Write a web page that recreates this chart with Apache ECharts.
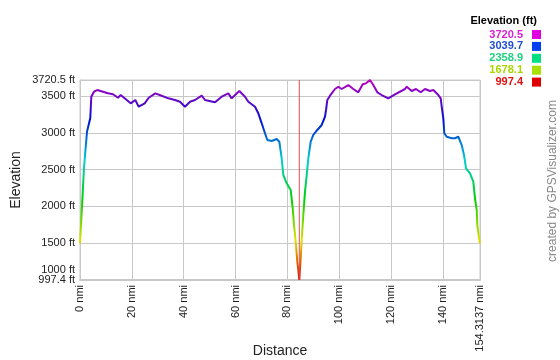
<!DOCTYPE html>
<html>
<head>
<meta charset="utf-8">
<script src="https://cdn.jsdelivr.net/npm/echarts@6/dist/echarts.min.js"></script>
<style>html,body{margin:0;padding:0;background:#fff}#c{width:560px;height:360px}</style>
</head>
<body>
<div id="c"></div>
<script>
// Distance (nmi) of each sampled point
var distances = [0, 0.77, 1.54, 2.70, 3.97, 4.36, 5.40, 6.67, 10.80, 12.73, 14.66, 15.70, 19.56, 21.33, 22.65, 24.96, 26.50, 29.05, 30.75, 34.07, 36.65, 38.58, 40.51, 42.44, 44.37, 46.95, 48.22, 52.08, 54.67, 57.21, 58.52, 61.46, 63.66, 64.93, 67.51, 68.79, 70.10, 71.37, 72.26, 73.96, 75.89, 76.89, 77.81, 78.43, 79.74, 81.29, 82.06, 82.56, 83.33, 83.83, 84.22, 84.60, 85.14, 85.65, 86.15, 86.80, 87.46, 88.08, 89.00, 90.01, 91.55, 93.25, 94.52, 94.91, 95.41, 96.45, 98.38, 99.65, 100.96, 103.51, 105.44, 107.37, 109.06, 110.34, 111.88, 113.15, 114.70, 116.39, 118.94, 121.52, 125.38, 126.04, 127.97, 129.62, 131.44, 133.10, 135.03, 136.30, 138.23, 139.16, 139.54, 140.16, 140.54, 141.47, 143.40, 144.67, 145.94, 147.26, 148.14, 148.92, 150.46, 151.73, 152.39, 153.04, 153.28, 154.05, 154.3137];
// Elevation (ft) of each sampled point
var elevations = [1497, 1995, 2522, 3016, 3203, 3493, 3561, 3584, 3539, 3526, 3479, 3516, 3403, 3448, 3357, 3403, 3479, 3539, 3516, 3471, 3448, 3425, 3357, 3425, 3448, 3507, 3448, 3417, 3493, 3539, 3471, 3571, 3493, 3425, 3357, 3267, 3131, 2995, 2904, 2890, 2917, 2880, 2654, 2427, 2314, 2223, 1974, 1746, 1474, 1247, 1134, 997.4, 1293, 1610, 1882, 2200, 2427, 2654, 2880, 2972, 3040, 3108, 3221, 3312, 3448, 3507, 3598, 3629, 3598, 3652, 3598, 3553, 3662, 3675, 3720.5, 3652, 3553, 3516, 3471, 3526, 3598, 3629, 3571, 3598, 3553, 3598, 3571, 3584, 3516, 3471, 3357, 3199, 2995, 2948, 2927, 2927, 2948, 2835, 2699, 2518, 2450, 2336, 2110, 1950, 1746, 1542, 1497];

var xMin = 0, xMax = 154.3137, xInterval = 20;
var yMin = 997.4, yMax = 3720.5;
var yTickValues = [997.4, 1500, 2000, 2500, 3000, 3500, 3720.5];
var yExtraTickValues = [1000];
var markerDistance = 84.6;
var legendTitle = 'Elevation (ft)';
var legendValues = [3720.5, 3039.7, 2358.9, 1678.1, 997.4];
var legendTextColors = ['#d820d8', '#2050d0', '#20d080', '#a8d800', '#e01010'];
var legendBoxColors = ['#e000e0', '#0040f0', '#00e080', '#a8e000', '#e00000'];
var gradientColors = ['#e00000', '#e0e000', '#00d000', '#00d0d0', '#0010d0', '#c000c0'];

var FONT = '"Liberation Sans", Arial, sans-serif';
var data = distances.map(function (d, i) { return [d, elevations[i]]; });
var markerData = [[markerDistance, yMin], [markerDistance, yMax]];

var graphics = [{
  type: 'text', right: 23, top: 15,
  style: { text: legendTitle, font: 'bold 11px ' + FONT, fill: '#000' }
}];
legendValues.forEach(function (v, i) {
  var cy = 34.5 + i * 11.9;
  graphics.push({
    type: 'text', x: 523, y: cy,
    style: { text: v.toFixed(1), font: 'bold 11px ' + FONT, fill: legendTextColors[i], align: 'right', verticalAlign: 'middle' }
  });
  graphics.push({
    type: 'rect', shape: { x: 532, y: cy - 4.5, width: 9, height: 9 },
    style: { fill: legendBoxColors[i] }
  });
});
graphics.push({
  type: 'text', x: 553, y: 181, rotation: Math.PI / 2,
  style: { text: 'created by GPSVisualizer.com', font: '12px ' + FONT, fill: '#888', align: 'center', verticalAlign: 'middle' }
});

var chart = echarts.init(document.getElementById('c'), null, { renderer: 'canvas' });
chart.setOption({
  animation: false,
  backgroundColor: '#fff',
  textStyle: { fontFamily: FONT },
  grid: { left: 80, right: 80, top: 80, bottom: 80, containLabel: false, outerBoundsMode: 'none',
    show: true, borderColor: '#c8c8c8', borderWidth: 1 },
  xAxis: {
    type: 'value', min: xMin, max: xMax, interval: xInterval,
    name: 'Distance', nameLocation: 'middle', nameGap: 64, nameMoveOverlap: false,
    nameTextStyle: { fontSize: 14, color: '#222', fontFamily: FONT },
    axisLine: { show: true, lineStyle: { color: '#c8c8c8', width: 2 } },
    axisTick: { show: false },
    axisLabel: { rotate: 90, margin: 5, fontSize: 11, color: '#222', fontFamily: FONT, hideOverlap: false,
      formatter: function (v) { return v + ' nmi'; } },
    splitLine: { show: true, lineStyle: { color: '#c8c8c8', width: 1 } }
  },
  yAxis: [{
    type: 'value', min: yMin, max: yMax, position: 'left',
    name: 'Elevation', nameLocation: 'middle', nameGap: 57, nameRotate: 90, nameMoveOverlap: false,
    nameTextStyle: { fontSize: 14, color: '#222', fontFamily: FONT },
    axisLine: { show: true, lineStyle: { color: '#c8c8c8', width: 1 } },
    axisTick: { show: false, customValues: yTickValues },
    axisLabel: {
      customValues: yTickValues, margin: 5, fontSize: 11, color: '#222', fontFamily: FONT, hideOverlap: false,
      formatter: function (v) { return v + ' ft'; }
    },
    splitLine: { show: true, lineStyle: { color: '#c8c8c8', width: 1 } }
  }, {
    type: 'value', min: yMin, max: yMax, position: 'left', offset: 0,
    axisLine: { show: false }, splitLine: { show: false },
    axisTick: { show: false, customValues: yExtraTickValues },
    axisLabel: {
      customValues: yExtraTickValues, margin: 5, fontSize: 11, color: '#222', fontFamily: FONT, hideOverlap: false,
      formatter: function (v) { return '{s|' + v + ' ft}'; },
      rich: { s: { fontSize: 11, color: '#222', fontFamily: FONT, padding: [0, 0, 20, 0] } }
    }
  }],
  visualMap: {
    show: false, type: 'continuous', dimension: 1, seriesIndex: [0],
    min: yMin, max: yMax, inRange: { color: gradientColors }
  },
  graphic: graphics,
  series: [{
    type: 'line', data: data, showSymbol: false, symbol: 'none',
    lineStyle: { width: 2 }, z: 3
  }, {
    type: 'line', data: markerData, showSymbol: false, symbol: 'none', silent: true, z: 4,
    itemStyle: { color: '#e05050' },
    lineStyle: { color: '#e05050', width: 1 }
  }]
});
</script>
</body>
</html>
